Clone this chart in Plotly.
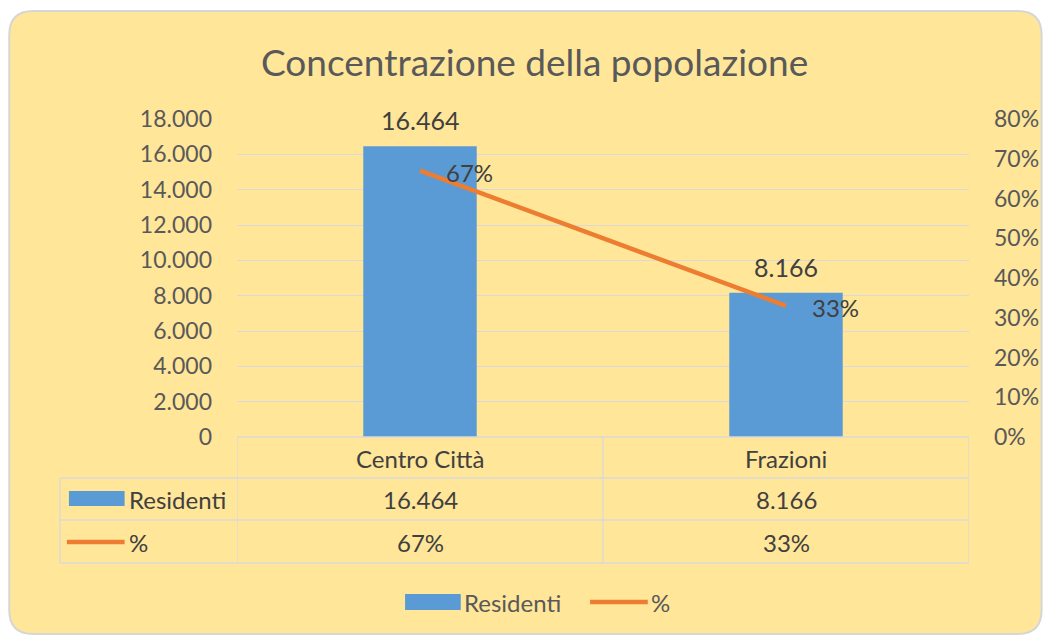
import plotly.graph_objects as go

# ---- data ----
categories = ["Centro Città", "Frazioni"]
residenti = [16464, 8166]
percentuali = [0.67, 0.33]
residenti_labels = ["16.464", "8.166"]
perc_labels = ["67%", "33%"]
title_text = "Concentrazione della popolazione"
series_names = ["Residenti", "%"]

# ---- geometry helpers (screen pixel -> paper); page body has 8px margin ----
OX, OY = 8, 8
W, H = 1051 - OX, 639 - OY
PL, PR, PT, PB = 237 - OX, 973 - OX, 119 - OY, 437 - OY


def px(x):
    return (x - OX - PL) / (PR - PL)


def py(y):
    return (PB - (y - OY)) / (PB - PT)


BLUE = "#5B9BD5"
ORANGE = "#ED7D31"
YELLOW = "#FFE699"
GRID = "#D9D9D9"
TXT = "#595959"
DARK = "#404040"
FONT = "Lato, Open Sans, sans-serif"

fig = go.Figure()
fig.add_trace(go.Bar(x=categories, y=residenti, name=series_names[0],
                     marker=dict(color=BLUE, line=dict(width=0)),
                     yaxis="y", showlegend=False, hoverinfo="skip"))
fig.add_trace(go.Scatter(x=categories, y=percentuali, name=series_names[1],
                         mode="lines", line=dict(color=ORANGE, width=4.5),
                         yaxis="y2", showlegend=False, hoverinfo="skip"))

annotations = []
# data labels for bars
for c, v, t in zip(categories, residenti, residenti_labels):
    annotations.append(dict(x=c, y=v, xref="x", yref="y", text=t, showarrow=False,
                            xanchor="center", yanchor="bottom", yshift=9,
                            font=dict(family=FONT, size=25, color=DARK)))
# data labels for line
for c, v, t in zip(categories, percentuali, perc_labels):
    annotations.append(dict(x=c, y=v, xref="x", yref="y2", text=t, showarrow=False,
                            xanchor="left", yanchor="middle", xshift=24, yshift=-2,
                            font=dict(family=FONT, size=24, color=DARK)))
# title
annotations.append(dict(x=px(536), y=py(62), xref="paper", yref="paper",
                        text=title_text, showarrow=False,
                        xanchor="center", yanchor="middle",
                        font=dict(family=FONT, size=37, color=TXT)))

# ---- data table ----
row_y = [458, 499, 542]
for c in categories:
    annotations.append(dict(x=c, y=py(row_y[0]), xref="x", yref="paper", text=c,
                            showarrow=False, xanchor="center", yanchor="middle",
                            font=dict(family=FONT, size=24, color=DARK)))
for c, t in zip(categories, residenti_labels):
    annotations.append(dict(x=c, y=py(row_y[1]), xref="x", yref="paper", text=t,
                            showarrow=False, xanchor="center", yanchor="middle",
                            font=dict(family=FONT, size=24, color=DARK)))
for c, t in zip(categories, perc_labels):
    annotations.append(dict(x=c, y=py(row_y[2]), xref="x", yref="paper", text=t,
                            showarrow=False, xanchor="center", yanchor="middle",
                            font=dict(family=FONT, size=24, color=DARK)))
for name, yy in zip(series_names, row_y[1:]):
    annotations.append(dict(x=px(126), y=py(yy), xref="paper", yref="paper", text=name,
                            showarrow=False, xanchor="left", yanchor="middle",
                            font=dict(family=FONT, size=24, color=DARK)))

# legend texts
annotations.append(dict(x=px(463), y=py(602), xref="paper", yref="paper", text=series_names[0],
                        showarrow=False, xanchor="left", yanchor="middle",
                        font=dict(family=FONT, size=24, color=TXT)))
annotations.append(dict(x=px(651), y=py(602), xref="paper", yref="paper", text=series_names[1],
                        showarrow=False, xanchor="left", yanchor="middle",
                        font=dict(family=FONT, size=24, color=TXT)))

shapes = []
# rounded background
x0, x1, y0, y1, r = 8, 1046, 11, 634, 24
path = (f"M {px(x0 + r)},{py(y0)} L {px(x1 - r)},{py(y0)} "
        f"Q {px(x1)},{py(y0)} {px(x1)},{py(y0 + r)} "
        f"L {px(x1)},{py(y1 - r)} Q {px(x1)},{py(y1)} {px(x1 - r)},{py(y1)} "
        f"L {px(x0 + r)},{py(y1)} Q {px(x0)},{py(y1)} {px(x0)},{py(y1 - r)} "
        f"L {px(x0)},{py(y0 + r)} Q {px(x0)},{py(y0)} {px(x0 + r)},{py(y0)} Z")
shapes.append(dict(type="path", path=path, xref="paper", yref="paper",
                   fillcolor=YELLOW, line=dict(color="#D6D6D6", width=2), layer="below"))

tl = dict(color=GRID, width=1.3)
# table horizontal lines
shapes.append(dict(type="line", xref="x", yref="paper", x0=-0.5, x1=1.5,
                   y0=py(437), y1=py(437), line=tl))
for yy in [478, 520, 563]:
    shapes.append(dict(type="line", xref="paper", yref="paper", x0=px(59), x1=1,
                       y0=py(yy), y1=py(yy), line=tl))
# table vertical lines
for xv in [-0.5, 0.5, 1.5]:
    shapes.append(dict(type="line", xref="x", yref="paper", x0=xv, x1=xv,
                       y0=py(437), y1=py(563), line=tl))
shapes.append(dict(type="line", xref="paper", yref="paper", x0=px(59), x1=px(59),
                   y0=py(478), y1=py(563), line=tl))
# table keys
shapes.append(dict(type="rect", xref="paper", yref="paper", x0=px(68), x1=px(124),
                   y0=py(506), y1=py(491), fillcolor=BLUE, line=dict(width=0)))
shapes.append(dict(type="line", xref="paper", yref="paper", x0=px(66), x1=px(124),
                   y0=py(542), y1=py(542), line=dict(color=ORANGE, width=4.5)))
# legend keys
shapes.append(dict(type="rect", xref="paper", yref="paper", x0=px(406), x1=px(462),
                   y0=py(610), y1=py(594), fillcolor=BLUE, line=dict(width=0)))
shapes.append(dict(type="line", xref="paper", yref="paper", x0=px(592), x1=px(650),
                   y0=py(602), y1=py(602), line=dict(color=ORANGE, width=4.5)))

fig.update_layout(
    width=W, height=H,
    margin=dict(l=PL, r=W - PR, t=PT, b=H - PB, pad=0),
    paper_bgcolor="white", plot_bgcolor="rgba(0,0,0,0)",
    separators=",.",
    bargap=0.69,
    showlegend=False,
    font=dict(family=FONT, color=TXT),
    xaxis=dict(type="category", range=[-0.5, 1.5], showticklabels=False,
               showgrid=False, zeroline=False, showline=False, ticks=""),
    yaxis=dict(range=[0, 18000], dtick=2000, tickformat=",d", showgrid=True,
               gridcolor=GRID, gridwidth=1.3, zeroline=False, showline=False,
               ticks="", ticklabelstandoff=24,
               tickfont=dict(family=FONT, size=23, color=TXT)),
    yaxis2=dict(range=[0, 0.8], dtick=0.1, tickformat=".0%", overlaying="y",
                side="right", showgrid=False, zeroline=False, showline=False,
                ticks="", ticklabelstandoff=24,
                tickfont=dict(family=FONT, size=23, color=TXT)),
    annotations=annotations,
    shapes=shapes,
)

fig.write_html("out.html")
